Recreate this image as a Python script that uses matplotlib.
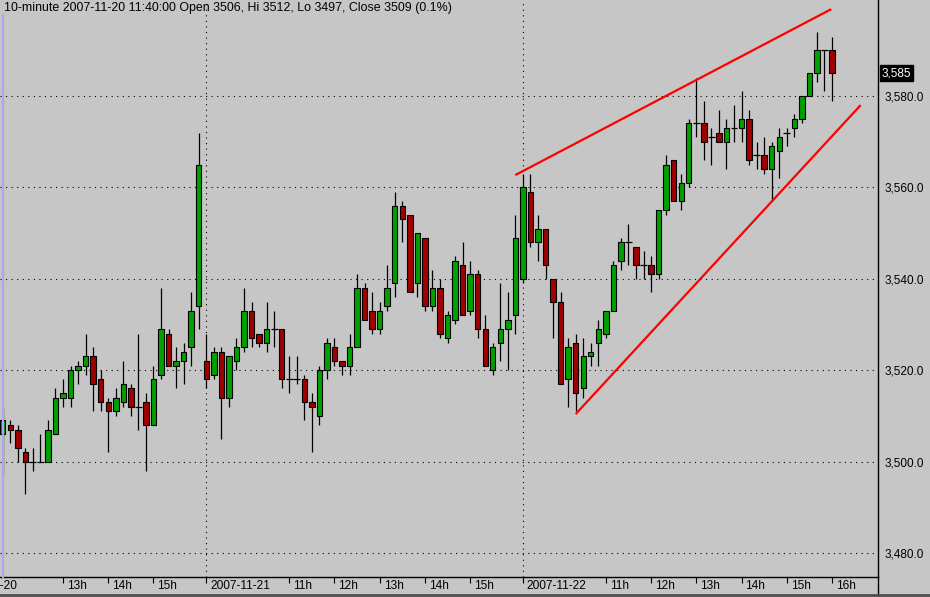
import numpy as np
import matplotlib
matplotlib.use("Agg")
import matplotlib.pyplot as plt
from matplotlib.lines import Line2D
from matplotlib import transforms

plt.rcParams['font.family'] = ['Liberation Sans', 'DejaVu Sans']

# 10-minute bars, 2007-11-20 11:40 .. 2007-11-22 16:00
opens = [3506, 3508, 3507, 3502, 3500, 3500, 3500, 3506, 3514, 3514, 3520, 3521, 3523, 3518, 3513,
         3511, 3513, 3516, 3512, 3513, 3508, 3519, 3528, 3521, 3522, 3525, 3534,
         3522, 3519, 3524, 3514, 3522, 3525, 3533, 3528, 3526, 3529, 3529, 3518, 3518, 3518,
         3513, 3510, 3520, 3525, 3522, 3521, 3525, 3538, 3533, 3529, 3534, 3539, 3556, 3554,
         3539, 3549, 3534, 3538, 3527, 3531, 3543, 3533, 3541, 3529, 3520, 3526, 3529, 3532,
         3540, 3559, 3548, 3551, 3540, 3535, 3518, 3526, 3516, 3523, 3526, 3528, 3533, 3544,
         3548, 3547, 3543, 3543, 3541, 3555, 3566, 3557, 3561, 3574, 3574, 3571, 3572, 3570,
         3573, 3573, 3575, 3567, 3567, 3564, 3568, 3572, 3573, 3575, 3580, 3585, 3590, 3590]
highs = [3512, 3509, 3508, 3503, 3503, 3506, 3509, 3516, 3518, 3521, 3522, 3528, 3525, 3520, 3514,
         3516, 3522, 3517, 3528, 3515, 3521, 3538, 3529, 3525, 3526, 3537, 3572,
         3528, 3525, 3525, 3523, 3527, 3538, 3535, 3528, 3535, 3533, 3529, 3523, 3523, 3519,
         3515, 3521, 3527, 3527, 3522, 3528, 3541, 3539, 3537, 3535, 3543, 3559, 3557, 3554,
         3550, 3549, 3542, 3540, 3533, 3545, 3548, 3544, 3542, 3532, 3526, 3539, 3537, 3554,
         3563, 3563, 3554, 3551, 3540, 3537, 3527, 3528, 3527, 3526, 3531, 3533, 3544, 3549,
         3552, 3547, 3546, 3545, 3555, 3567, 3566, 3563, 3575, 3584, 3579, 3573, 3577, 3575,
         3578, 3581, 3577, 3570, 3571, 3570, 3573, 3573, 3576, 3580, 3585, 3594, 3590, 3593]
lows = [3497, 3504, 3500, 3493, 3498, 3500, 3500, 3506, 3512, 3512, 3517, 3519, 3511, 3511, 3502,
        3510, 3512, 3510, 3507, 3498, 3508, 3518, 3521, 3516, 3517, 3521, 3529,
        3516, 3518, 3505, 3512, 3520, 3524, 3525, 3525, 3524, 3525, 3516, 3515, 3517, 3509,
        3502, 3508, 3518, 3521, 3519, 3519, 3525, 3531, 3528, 3528, 3533, 3536, 3548, 3537,
        3536, 3533, 3533, 3527, 3526, 3530, 3532, 3532, 3527, 3521, 3519, 3522, 3520, 3528,
        3539, 3547, 3544, 3540, 3527, 3517, 3512, 3511, 3514, 3521, 3521, 3527, 3533, 3542,
        3543, 3540, 3540, 3537, 3540, 3554, 3557, 3555, 3560, 3571, 3566, 3565, 3570, 3564,
        3570, 3570, 3565, 3564, 3563, 3557, 3562, 3569, 3571, 3574, 3580, 3583, 3581, 3579]
closes = [3509, 3507, 3503, 3500, 3500, 3500, 3507, 3514, 3515, 3520, 3521, 3523, 3517, 3513, 3511,
          3514, 3517, 3512, 3512, 3508, 3518, 3529, 3521, 3522, 3524, 3533, 3565,
          3518, 3524, 3514, 3523, 3525, 3533, 3527, 3526, 3529, 3529, 3518, 3518, 3518, 3513,
          3512, 3520, 3526, 3522, 3521, 3525, 3538, 3531, 3529, 3533, 3538, 3556, 3553, 3537,
          3550, 3534, 3538, 3528, 3532, 3544, 3532, 3541, 3529, 3521, 3525, 3529, 3531, 3549,
          3560, 3548, 3551, 3543, 3535, 3517, 3525, 3515, 3523, 3524, 3529, 3533, 3543, 3548,
          3548, 3543, 3543, 3541, 3555, 3565, 3557, 3561, 3574, 3574, 3570, 3571, 3570, 3573,
          3573, 3575, 3566, 3567, 3564, 3569, 3571, 3572, 3575, 3580, 3585, 3590, 3590, 3585]

tick_pos = [-6.5, 8, 14, 20, 27, 38, 44, 50, 56, 62, 69, 80, 86, 92, 98, 104, 110]
tick_labels = ['2007-11-20', '13h', '14h', '15h', '2007-11-21', '11h', '12h', '13h', '14h', '15h',
               '2007-11-22', '11h', '12h', '13h', '14h', '15h', '16h']
day_starts = [27, 69]
price_ticks = [3480, 3500, 3520, 3540, 3560, 3580]

# red trend channel drawn on the chart (bar index, price)
upper_line_x = [68.0, 109.9]
upper_line_y = [3562.7, 3599.0]
lower_line_x = [76.0, 113.8]
lower_line_y = [3510.4, 3578.0]

title = "10-minute 2007-11-20 11:40:00 Open 3506, Hi 3512, Lo 3497, Close 3509 (0.1%)"

bg = '#c6c6c6'
green = '#00a000'
red = '#a00000'

o = np.array(opens, float)
h = np.array(highs, float)
l = np.array(lows, float)
c = np.array(closes, float)
idx = np.arange(len(o))

fig = plt.figure(figsize=(9.3, 5.97), dpi=100)
fig.patch.set_facecolor(bg)
ax = fig.add_axes([0, 20 / 597, 878 / 930, 577 / 597])
ax.set_facecolor(bg)

# grid
for p in price_ticks:
    ax.axhline(p, color='black', lw=0.8, dashes=(1, 4), zorder=1)
for d in day_starts:
    ax.axvline(d, color='black', lw=0.8, dashes=(1, 4), zorder=1)

# candles
ax.vlines(idx, l, h, color='black', lw=0.9, zorder=2)
up = c > o
dn = c < o
flat = c == o
ax.bar(idx[up], (c - o)[up], bottom=o[up], width=0.72, color=green,
       edgecolor='black', linewidth=0.8, zorder=3)
ax.bar(idx[dn], (o - c)[dn], bottom=c[dn], width=0.72, color=red,
       edgecolor='black', linewidth=0.8, zorder=3)
ax.hlines(o[flat], idx[flat] - 0.45, idx[flat] + 0.45, color='black', lw=0.9, zorder=3)

# trend lines
ax.plot(upper_line_x, upper_line_y, color='#ff0000', lw=1.6, zorder=4, solid_capstyle='butt')
ax.plot(lower_line_x, lower_line_y, color='#ff0000', lw=1.6, zorder=4, solid_capstyle='butt')

# right price axis
ax.yaxis.tick_right()
ax.set_yticks(price_ticks)
ax.set_yticklabels([f"{p:,.1f}" for p in price_ticks], fontsize=8.5)
ax.tick_params(axis='y', length=0, pad=5)

# bottom time axis
ax.set_xticks(tick_pos)
ax.set_xticklabels([])
ax.tick_params(axis='x', direction='out', length=4, width=0.8, color='black')
lab_tr = transforms.offset_copy(ax.get_xaxis_transform(), fig=fig, x=4, y=-9, units='dots')
for p, t in zip(tick_pos, tick_labels):
    ax.text(p, 0, t, transform=lab_tr, ha='left', va='center', fontsize=8.6, clip_on=False)

# limits last, so the ticks cannot widen the view
ax.set_xlim(-0.36, 116.1)
ax.set_ylim(3474.75, 3601.0)

for s in ['left', 'top']:
    ax.spines[s].set_visible(False)
ax.spines['bottom'].set_linewidth(1.0)
ax.spines['right'].set_linewidth(1.0)

# last price marker
last_tr = transforms.offset_copy(ax.get_yaxis_transform(), fig=fig, x=4, y=0, units='dots')
ax.text(1.0, c[-1], f"{int(c[-1]):,}", transform=last_tr,
        ha='left', va='center', fontsize=8.5, color='white',
        bbox=dict(boxstyle='square,pad=0.15', facecolor='black', edgecolor='black'),
        clip_on=False)

# header text
fig.text(4 / 930, 1 - 8 / 597, title, ha='left', va='center', fontsize=8.9)

# frame bits outside the axes
fig.add_artist(Line2D([878 / 930, 878 / 930], [0, 20 / 597], color='black', lw=1.0,
                      transform=fig.transFigure))
fig.add_artist(Line2D([0, 1], [2 / 597, 2 / 597], color='#505050', lw=2.0,
                      transform=fig.transFigure))
fig.add_artist(Line2D([2.5 / 930, 2.5 / 930], [20 / 597, 1 - 15 / 597], color='#a8a8f0', lw=1.5,
                      transform=fig.transFigure))

fig.savefig('out.png', dpi=100, facecolor=bg)
